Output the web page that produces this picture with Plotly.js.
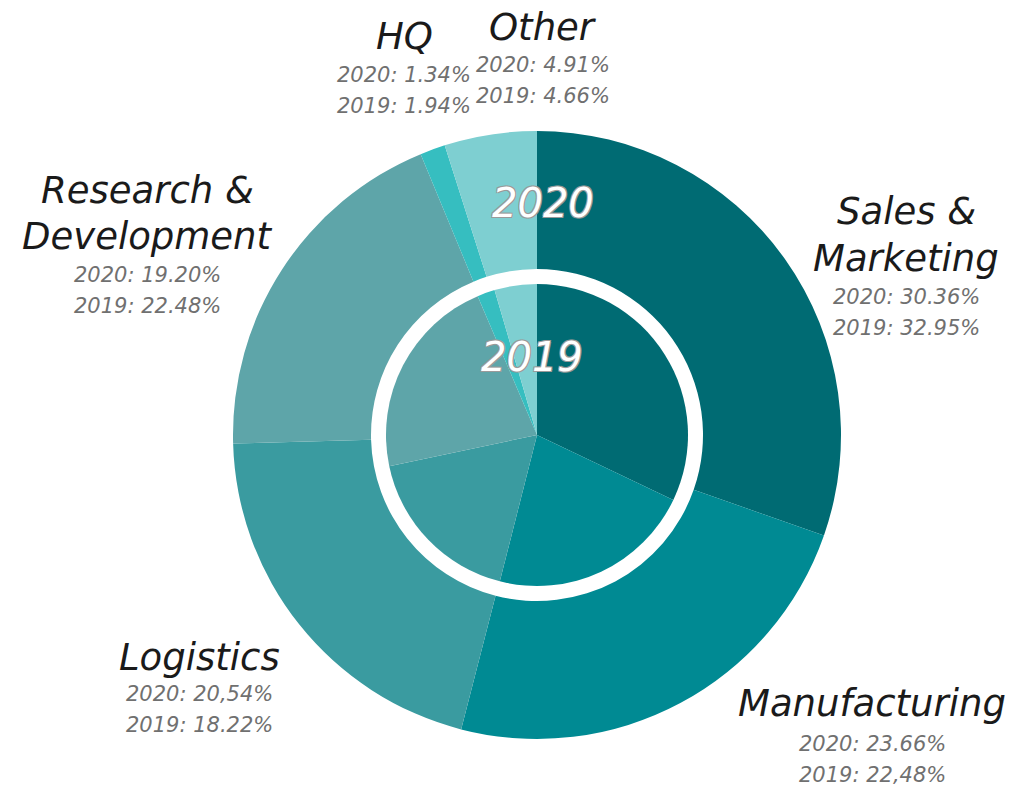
<!DOCTYPE html>
<html>
<head>
<meta charset="utf-8">
<script src="https://cdn.plot.ly/plotly-3.0.1.min.js"></script>
<style>
  html, body { margin: 0; padding: 0; background: #ffffff; }
  #chart { width: 1033px; height: 787px; }
</style>
</head>
<body>
<div id="chart"></div>
<script>
var W = 1033;
var H = 787;

// data
var categories = [ 'Sales & Marketing', 'Manufacturing', 'Logistics', 'Research & Development', 'HQ', 'Other' ];
var values2020 = [ 30.36, 23.66, 20.54, 19.20, 1.34, 4.91 ];
var values2019 = [ 32.95, 22.48, 18.22, 22.48, 1.94, 4.66 ];
var text2020 = [ '30.36%', '23.66%', '20,54%', '19.20%', '1.34%', '4.91%' ];
var text2019 = [ '32.95%', '22,48%', '18.22%', '22.48%', '1.94%', '4.66%' ];
var nameLines = [ [ 'Sales &', 'Marketing' ], [ 'Manufacturing' ], [ 'Logistics' ], [ 'Research &', 'Development' ], [ 'HQ' ], [ 'Other' ] ];
var colors = [ '#006b73', '#008a93', '#3a9ba0', '#5ea5a9', '#36bec0', '#7ecfd1' ];

// geometry in pixels
var cx = 537;
var cy = 435;
var R_outer = 304;
var R_hole = 166;
var R_inner = 151;

function px( x ) { return x / W; }
function py( y ) { return 1 - y / H; }

function domain( r )
{
    return {
        x: [ px( cx - r ), px( cx + r ) ],
        y: [ py( cy + r ), py( cy - r ) ]
    };
}

var outer =
{
    type: 'pie',
    labels: categories,
    values: values2020,
    sort: false,
    direction: 'clockwise',
    rotation: 0,
    hole: R_hole / R_outer,
    domain: domain( R_outer ),
    marker: { colors: colors, line: { width: 0 } },
    textinfo: 'none',
    hoverinfo: 'label+percent',
    showlegend: false
};

var inner =
{
    type: 'pie',
    labels: categories,
    values: values2019,
    sort: false,
    direction: 'clockwise',
    rotation: 0,
    domain: domain( R_inner ),
    marker: { colors: colors, line: { width: 0 } },
    textinfo: 'none',
    hoverinfo: 'label+percent',
    showlegend: false
};

// label anchors (pixel centres): [x, first name line y, first pct line y]
var labelPos =
[
    [ 906, 212, 297 ],
    [ 872, 703, 744 ],
    [ 199, 657, 694 ],
    [ 147, 190, 275 ],
    [ 404, 37, 75 ],
    [ 543, 27, 65 ]
];

var NAME_FONT = 'DejaVu Sans, sans-serif';
var PCT_FONT = 'DejaVu Sans, sans-serif';
var annotations = [];

for( var i = 0; i < categories.length; i++ )
{
    var p = labelPos[ i ];
    for( var j = 0; j < nameLines[ i ].length; j++ )
    {
        annotations.push(
            {
                xref: 'paper', yref: 'paper',
                x: px( p[ 0 ] ), y: py( p[ 1 ] + j * 46 ),
                xanchor: 'center', yanchor: 'middle',
                showarrow: false,
                text: nameLines[ i ][ j ],
                font: { family: NAME_FONT, size: 37, color: '#1a1a1a', style: 'italic' }
            }
        );
    }
    var pct = [ '2020: ' + text2020[ i ], '2019: ' + text2019[ i ] ];
    for( var k = 0; k < 2; k++ )
    {
        annotations.push(
            {
                xref: 'paper', yref: 'paper',
                x: px( p[ 0 ] ), y: py( p[ 2 ] + k * 31 ),
                xanchor: 'center', yanchor: 'middle',
                showarrow: false,
                text: pct[ k ],
                font: { family: PCT_FONT, size: 21, color: '#707070', style: 'italic' }
            }
        );
    }
}

var outline = '1px 1px 0 #9a9a9a, -1px -1px 0 #9a9a9a, 1px -1px 0 #9a9a9a, -1px 1px 0 #9a9a9a';

annotations.push(
    {
        xref: 'paper', yref: 'paper',
        x: px( 543 ), y: py( 203 ),
        xanchor: 'center', yanchor: 'middle',
        showarrow: false,
        text: '2020',
        font: { family: PCT_FONT, size: 40, color: '#ffffff', style: 'italic', shadow: outline }
    },
    {
        xref: 'paper', yref: 'paper',
        x: px( 532 ), y: py( 357 ),
        xanchor: 'center', yanchor: 'middle',
        showarrow: false,
        text: '2019',
        font: { family: PCT_FONT, size: 40, color: '#ffffff', style: 'italic', shadow: outline }
    }
);

var layout =
{
    width: W,
    height: H,
    margin: { l: 0, r: 0, t: 0, b: 0 },
    paper_bgcolor: '#ffffff',
    plot_bgcolor: '#ffffff',
    showlegend: false,
    annotations: annotations
};

Plotly.newPlot( 'chart', [ outer, inner ], layout, { displayModeBar: false, staticPlot: true } );
</script>
</body>
</html>
